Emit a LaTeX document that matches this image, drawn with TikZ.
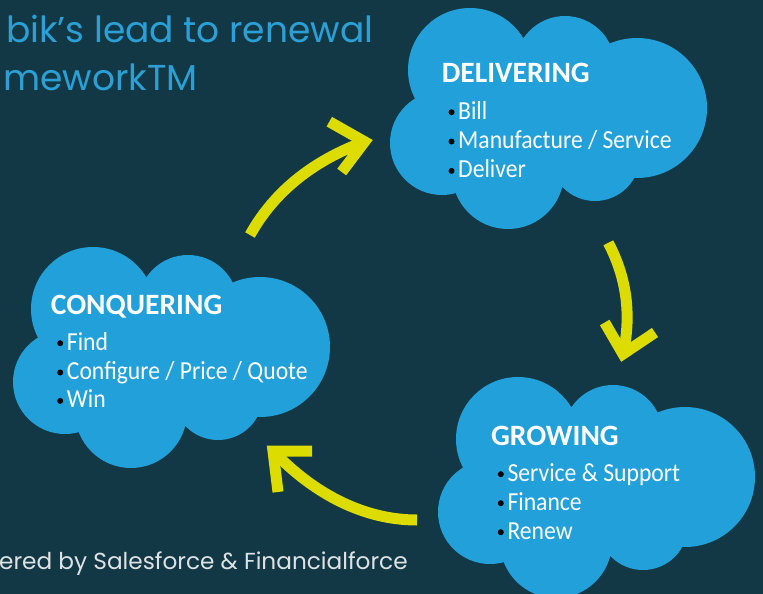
\documentclass[tikz,border=0pt]{standalone}
\usepackage{fontspec}
\setmainfont{Carlito}
\newfontfamily\bodyfont[FakeStretch=0.91]{Carlito}
\newfontfamily\titlefont{Poppins}
\definecolor{bg}{HTML}{133845}
\definecolor{cloudblue}{HTML}{22A0DA}
\definecolor{arrowyellow}{HTML}{DCDC00}
\definecolor{titleblue}{HTML}{2AA0D6}
\definecolor{footgray}{HTML}{DDE2E5}
\tikzset{
  cloudshape/.pic={
    \fill[cloudblue] (80,62) circle[radius=62] (175,58) circle[radius=50]
      (247,100) circle[radius=70] (52,135) circle[radius=52]
      (118,165) circle[radius=56] (205,148) circle[radius=45];
    \fill[cloudblue] (40,40) rectangle (245,166);
  },
  arrowline/.style={draw=arrowyellow, line width=11pt, line cap=butt, line join=miter},
  headtxt/.style={anchor=base west, inner sep=0pt, text=white, font=\fontsize{29.5}{30}\selectfont\bfseries},
  itemtxt/.style={anchor=base west, inner sep=0pt, text=white, font=\bodyfont\fontsize{26}{26}\selectfont},
  titletxt/.style={anchor=base west, inner sep=0pt, text=titleblue, font=\titlefont\fontsize{36}{36}\selectfont},
  foottxt/.style={anchor=base west, inner sep=0pt, text=footgray, font=\titlefont\fontsize{23.2}{24}\selectfont},
}
\newcommand{\bulitem}[4]{%
  \fill[black] (#2-6.5,#3-6.8) circle[radius=3];
  \node[itemtxt] (#1) at (#2,#3) {#4};}
\begin{document}
\begin{tikzpicture}[x=1pt,y=-1pt]
\fill[bg] (0,0) rectangle (763,594);
\useasboundingbox (0,0) rectangle (763,594);
% titles
\node[titletxt] (title1) at (6,43) {bik’s lead to renewal};
\node[titletxt] (title2) at (3,90) {meworkTM};
\node[foottxt] (foot) at (-1,569) {ered by Salesforce \& Financialforce};
% clouds
\pic at (390,8) {cloudshape};
\pic at (13,247) {cloudshape};
\pic at (438,377) {cloudshape};
% delivering
\node[headtxt] (dh) at (441.7,82.7) {DELIVERING};
\bulitem{d1}{458}{119}{Bill}
\bulitem{d2}{458}{148.3}{Manufacture / Service}
\bulitem{d3}{458}{177.7}{Deliver}
% conquering
\node[headtxt] (ch) at (50.7,314) {CONQUERING};
\bulitem{c1}{66.7}{350}{Find}
\bulitem{c2}{66.7}{379.3}{Configure / Price / Quote}
\bulitem{c3}{66.7}{407.7}{Win}
% growing
\node[headtxt] (gh) at (491,445) {GROWING};
\bulitem{g1}{507.3}{481}{Service \& Support}
\bulitem{g2}{507.3}{510}{Finance}
\bulitem{g3}{507.3}{539}{Renew}
% arrows
\coordinate (a1s) at (250,235);
\coordinate (a1t) at (364.6,141.7);
\coordinate (a1u) at (329.3,121.7);
\coordinate (a1l) at (341.7,172);
\draw[arrowline] (a1s) .. controls (275,190) and (315,160) .. (a1t);
\draw[arrowline] (a1u) -- (a1t) -- (a1l);
\coordinate (a2s) at (608.3,242.8);
\coordinate (a2t) at (623,354);
\coordinate (a2l) at (604.7,322.5);
\coordinate (a2r) at (655,332.5);
\draw[arrowline] (a2s) .. controls (628,280) and (631,318) .. (a2t);
\draw[arrowline] (a2l) -- (a2t) -- (a2r);
\coordinate (a3s) at (417,520);
\coordinate (a3t) at (273,451);
\coordinate (a3u) at (312,451);
\coordinate (a3l) at (278,492);
\draw[arrowline] (a3s) .. controls (365,520) and (315,495) .. (a3t);
\draw[arrowline] (a3u) -- (a3t) -- (a3l);
\end{tikzpicture}
\end{document}
